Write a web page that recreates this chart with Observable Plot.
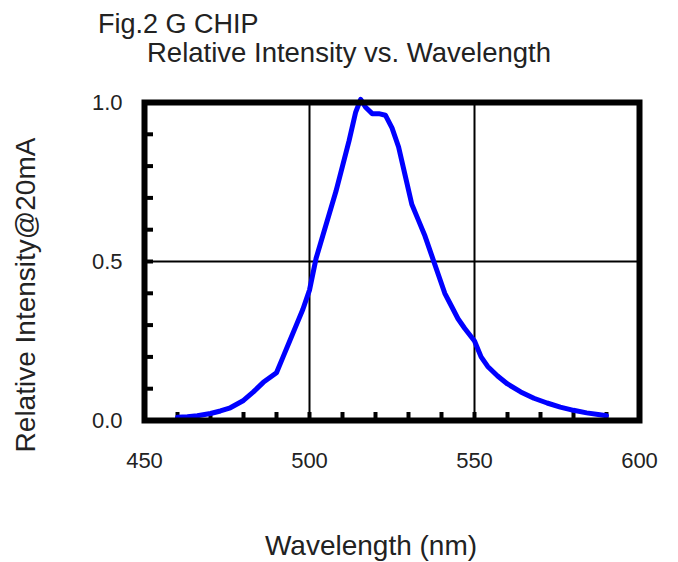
<!DOCTYPE html>
<html>
<head>
<meta charset="utf-8">
<script src="https://cdn.jsdelivr.net/npm/d3@7"></script>
<script src="https://cdn.jsdelivr.net/npm/@observablehq/plot@0.6"></script>
<style>
  html, body { margin: 0; padding: 0; background: #fff; }
  #chart { width: 678px; height: 562px; }
  svg { font-family: "Liberation Sans", Arial, sans-serif; }
</style>
</head>
<body>
<div id="chart"></div>
<script>
// Data
const wavelength = [460, 463, 466, 470, 473, 476, 480, 483, 486, 490, 492, 494, 496, 498, 500, 502, 504, 506, 508, 510, 512, 514, 515.5, 517, 519, 521, 523, 525, 527, 529, 531, 533, 535, 537, 539, 541, 543, 545, 547, 550, 552, 554, 557, 560, 564, 568, 572, 576, 580, 584, 588, 590];
const intensity  = [0.01, 0.012, 0.015, 0.022, 0.03, 0.04, 0.063, 0.09, 0.12, 0.15, 0.2, 0.25, 0.3, 0.35, 0.41, 0.51, 0.58, 0.65, 0.72, 0.8, 0.88, 0.97, 1.01, 0.985, 0.965, 0.965, 0.96, 0.92, 0.86, 0.77, 0.68, 0.63, 0.58, 0.52, 0.46, 0.4, 0.36, 0.32, 0.29, 0.25, 0.2, 0.17, 0.14, 0.115, 0.09, 0.07, 0.055, 0.042, 0.032, 0.024, 0.018, 0.015];
const xTicks = [450, 500, 550, 600];
const yTicks = [0, 0.5, 1.0];
const xMinor = [460, 470, 480, 490, 500, 510, 520, 530, 540, 550, 560, 570, 580, 590];
const yMinor = [0.1, 0.2, 0.3, 0.4, 0.5, 0.6, 0.7, 0.8, 0.9];
const xGrid = [500, 550];
const yGrid = [0.5];

const figTitle = "Fig.2 G CHIP";
const chartTitle = "Relative Intensity vs. Wavelength";
const xLabel = "Wavelength (nm)";
const yLabel = "Relative Intensity@20mA";

const data = wavelength.map((w, i) => ({w, v: intensity[i]}));

const W = 678, H = 562;
const mL = 144, mR = 39, mT = 102, mB = 142;
const plotW = W - mL - mR, plotH = H - mT - mB;

const chart = Plot.plot({
  width: W,
  height: H,
  marginLeft: mL,
  marginRight: mR,
  marginTop: mT,
  marginBottom: mB,
  style: {fontFamily: '"Liberation Sans", Arial, sans-serif', color: "#222", background: "#fff"},
  x: {domain: [450, 600]},
  y: {domain: [0, 1]},
  marks: [
    Plot.ruleX(xGrid, {stroke: "#000", strokeWidth: 2}),
    Plot.ruleY(yGrid, {stroke: "#000", strokeWidth: 2}),
    Plot.ruleX(xMinor, {stroke: "#000", strokeWidth: 4, insetTop: plotH - 8}),
    Plot.ruleY(yMinor, {stroke: "#000", strokeWidth: 4, insetRight: plotW - 9}),
    Plot.line(data, {x: "w", y: "v", stroke: "#0000ff", strokeWidth: 5, strokeLinejoin: "round", strokeLinecap: "round"}),
    Plot.frame({stroke: "#000", strokeWidth: 6}),
    Plot.axisX(xTicks, {tickSize: 0, tickPadding: 32, fontSize: 22, tickFormat: d => String(d), label: null, fill: "#222"}),
    Plot.axisY(yTicks, {tickSize: 0, tickPadding: 22, fontSize: 22, tickFormat: d => d.toFixed(1), label: null, fill: "#222"})
  ]
});

document.getElementById("chart").appendChild(chart);

const svg = d3.select(chart);
const font = '"Liberation Sans", Arial, sans-serif';
svg.append("text").attr("x", 98).attr("y", 33).attr("font-size", 27).attr("text-anchor", "start").attr("font-family", font).attr("fill", "#222").text(figTitle);
svg.append("text").attr("x", 147).attr("y", 62).attr("font-size", 27.5).attr("text-anchor", "start").attr("font-family", font).attr("fill", "#222").text(chartTitle);
svg.append("text").attr("x", 371).attr("y", 555).attr("font-size", 28).attr("text-anchor", "middle").attr("font-family", font).attr("fill", "#222").text(xLabel);
svg.append("text").attr("transform", "translate(35,295) rotate(-90)").attr("font-size", 28).attr("text-anchor", "middle").attr("font-family", font).attr("fill", "#222").text(yLabel);
</script>
</body>
</html>
